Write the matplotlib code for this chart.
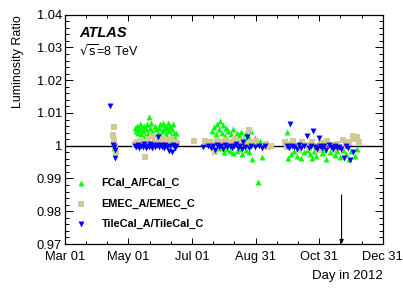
import matplotlib
matplotlib.use("Agg")
import matplotlib.pyplot as plt
from matplotlib.ticker import MultipleLocator, FixedLocator

plt.rcParams['font.family'] = ['Liberation Sans', 'DejaVu Sans']

# day of year (2012) and luminosity ratios
fcal_day = [107, 108,
            128, 129, 130, 131, 132, 133, 134, 135, 136, 137, 138, 139, 140, 141, 142, 143,
            144, 145, 146, 147, 148, 149, 150, 151, 152, 153, 154, 155, 156, 157, 158, 159,
            160, 161, 162, 163, 164, 165, 166, 167, 168,
            202, 204, 206, 207, 209, 210, 212, 213, 215, 216, 218, 220, 222, 224, 226, 228,
            230, 233, 235, 237, 240, 243, 248,
            205, 210, 214, 217, 219, 222, 226, 228, 231, 235, 238, 241, 246, 250,
            274, 275, 278, 281, 284, 286, 288, 290, 293, 296, 298, 300, 302, 305, 308, 310,
            312, 315, 318, 320, 322, 325, 328, 331, 334, 336, 339, 341]
fcal_val = [1.0027, 0.9993,
            1.0055, 1.0045, 1.0060, 1.0040, 1.0052, 1.0066, 1.0035, 1.0056, 1.0045, 1.0061,
            1.0030, 1.0050, 1.0065, 1.0040, 1.0088, 1.0055, 1.0070, 1.0045, 1.0035, 1.0060,
            1.0050, 1.0025, 1.0040, 1.0055, 1.0066, 1.0030, 1.0046, 1.0070, 1.0050, 1.0060,
            1.0035, 1.0055, 1.0070, 1.0045, 1.0060, 1.0030, 1.0050, 1.0065, 1.0040, 1.0025,
            1.0038,
            1.0045, 1.0058, 1.0035, 1.0066, 1.0050, 1.0074, 1.0040, 1.0062, 1.0030, 1.0055,
            1.0046, 1.0036, 1.0050, 1.0028, 1.0040, 1.0033, 1.0043, 1.0025, 1.0040, 1.0030,
            1.0044, 1.0024, 1.0015,
            0.9988, 0.9992, 0.9982, 0.9990, 0.9985, 0.9978, 0.9983, 0.9990, 0.9974, 0.9987,
            0.9980, 0.9958, 0.9890, 0.9967,
            1.0041, 0.9962, 0.9975, 0.9985, 0.9970, 0.9990, 0.9962, 0.9980, 0.9988, 0.9975,
            0.9962, 0.9985, 0.9970, 0.9992, 0.9978, 0.9987, 0.9960, 0.9980, 0.9990, 0.9972,
            0.9983, 0.9966, 0.9988, 0.9976, 0.9960, 0.9985, 0.9970, 0.9990]

emec_day = [107, 108, 108.5, 109, 110,
            128, 130, 132, 134, 136, 138, 139, 141, 143, 145, 147, 149, 151, 153, 155, 157,
            159, 161, 163, 165, 167, 169,
            185, 195,
            200, 203, 205, 207, 209, 212, 214, 216, 218, 220, 222, 224, 226, 228, 230, 232,
            234, 236, 238, 240, 242, 244, 252, 254, 256, 259,
            272, 274, 277, 280, 283, 286, 289, 292, 295, 298, 301, 304, 307, 310, 313, 316,
            319, 322, 325, 328, 331, 334, 337, 339, 341, 343]
emec_val = [1.0033, 1.0018, 1.0058, 1.0000, 0.9982,
            1.0005, 1.0010, 0.9998, 1.0015, 1.0008, 0.9966, 1.0012, 1.0020, 1.0006, 1.0030,
            1.0012, 1.0002, 1.0018, 1.0010, 1.0022, 1.0006, 1.0015, 1.0010, 1.0020, 1.0005,
            1.0012, 1.0008,
            1.0015, 1.0014,
            1.0010, 1.0006, 0.9980, 1.0015, 1.0004, 1.0012, 0.9996, 1.0018, 1.0008, 1.0000,
            1.0012, 1.0020, 1.0004, 1.0010, 0.9995, 1.0015, 1.0006, 1.0000, 1.0048, 1.0010,
            1.0002, 1.0015, 1.0000, 1.0004, 0.9996, 1.0000,
            1.0010, 0.9995, 1.0005, 1.0015, 1.0000, 0.9990, 1.0010, 1.0003, 0.9993, 1.0012,
            1.0000, 0.9988, 1.0008, 0.9996, 1.0015, 1.0002, 0.9990, 1.0006, 0.9994, 1.0018,
            1.0000, 1.0010, 1.0030, 1.0020, 1.0028, 1.0012]

tile_day = [104.5, 107, 108, 109, 109.5,
            128, 129.5, 131, 132.5, 134, 135.5, 137, 138.5, 140, 141.5, 143, 144.5, 146,
            147.5, 149, 150, 151.5, 153, 154.5, 156, 157.5, 159, 160.5, 162, 163.5, 165,
            166.5, 168,
            194, 198, 201, 203, 205, 207, 209, 211, 213, 215, 217, 219, 221, 223, 225, 227,
            229, 231, 232, 234, 236, 238, 240, 243, 247, 250, 253,
            277, 274, 276, 279, 281, 284, 286, 288, 290, 293, 295, 297, 299, 301, 303, 305,
            306, 308, 310, 312, 314, 316, 318, 320, 322, 324, 326, 329, 331, 333, 335, 337]
tile_val = [1.0121, 1.0003, 0.9997, 0.9988, 0.9963,
            1.0000, 0.9995, 1.0003, 0.9992, 1.0000, 0.9996, 1.0004, 0.9993, 1.0000, 0.9997,
            1.0004, 0.9994, 1.0001, 0.9996, 1.0002, 1.0027, 0.9995, 1.0003, 0.9997, 0.9992,
            1.0002, 0.9996, 0.9985, 0.9998, 0.9980, 1.0001, 0.9994, 1.0000,
            0.9997, 1.0000, 0.9993, 0.9998, 0.9988, 1.0002, 0.9995, 0.9999, 0.9990, 1.0003,
            0.9996, 1.0000, 0.9992, 0.9998, 1.0004, 0.9994, 1.0000, 0.9990, 1.0010, 0.9997,
            1.0028, 0.9994, 1.0000, 0.9996, 0.9998, 0.9993, 1.0000,
            1.0067, 0.9998, 0.9992, 1.0000, 0.9995, 0.9990, 1.0002, 0.9994, 0.9998, 1.0030,
            0.9993, 1.0000, 1.0046, 0.9996, 0.9990, 1.0024, 1.0000, 0.9994, 0.9998, 0.9988,
            1.0002, 0.9995, 0.9990, 1.0000, 0.9993, 0.9997, 0.9990, 0.9963, 0.9998, 0.9992,
            0.9955, 0.9980]

tick_days = [61, 122, 183, 244, 305, 366]
tick_labels = ['Mar 01', 'May 01', 'Jul 01', 'Aug 31', 'Oct 31', 'Dec 31']
ytick_vals = [0.97, 0.98, 0.99, 1.0, 1.01, 1.02, 1.03, 1.04]
ytick_labels = ['0.97', '0.98', '0.99', '1', '1.01', '1.02', '1.03', '1.04']

fig = plt.figure(figsize=(4.03, 2.91), dpi=100)
ax = fig.add_axes([0.161, 0.1615, 0.7887, 0.788])

ax.axhline(1.0, color='black', lw=1.0, zorder=1)
ax.scatter(fcal_day, fcal_val, marker='^', s=18, color='#00ff00', lw=0, zorder=2,
           label='FCal_A/FCal_C')
ax.scatter(emec_day, emec_val, marker='s', s=16, color='#d4c995', lw=0, zorder=3,
           label='EMEC_A/EMEC_C')
ax.scatter(tile_day, tile_val, marker='v', s=18, color='#0000ff', lw=0, zorder=4,
           label='TileCal_A/TileCal_C')

ax.set_xlim(61, 366)
ax.set_ylim(0.97, 1.04)
ax.xaxis.set_major_locator(FixedLocator(tick_days))
ax.set_xticklabels(tick_labels)
ax.xaxis.set_minor_locator(FixedLocator([61 + i * 61 / 3 for i in range(16)]))
ax.yaxis.set_major_locator(FixedLocator(ytick_vals))
ax.set_yticklabels(ytick_labels)
ax.yaxis.set_minor_locator(MultipleLocator(0.002))

ax.tick_params(axis='both', which='both', direction='in', top=True, right=True,
               labelsize=9.3, width=0.7)
ax.tick_params(axis='y', which='major', length=6, pad=2)
ax.tick_params(axis='y', which='minor', length=3)
ax.tick_params(axis='x', which='major', length=4, pad=5)
ax.tick_params(axis='x', which='minor', length=2)
for sp in ax.spines.values():
    sp.set_linewidth(0.9)

# arrow marking the day
ax.annotate('', xy=(326.5, 0.9700), xytext=(326.5, 0.9850),
            arrowprops=dict(arrowstyle='-|>', color='black', lw=0.8,
                            mutation_scale=6, shrinkA=0, shrinkB=0))

ax.text(0.045, 0.922, 'ATLAS', transform=ax.transAxes, fontsize=10.5,
        fontweight='bold', fontstyle='italic', ha='left', va='center')
ax.text(0.045, 0.842, r'$\sqrt{\rm s}$=8 TeV', transform=ax.transAxes, fontsize=9,
        ha='left', va='center')

leg = ax.legend(loc='upper left', bbox_to_anchor=(0.0, 0.31), frameon=False,
                prop={'weight': 'bold', 'size': 7.8}, handletextpad=0.9,
                labelspacing=0.95, borderpad=0, scatterpoints=1)

ax.text(1.0, -0.14, 'Day in 2012', transform=ax.transAxes, fontsize=9.5,
        ha='right', va='center')
fig.text(18 / 403, 1 - 15 / 291, 'Luminosity Ratio', rotation=90, fontsize=9,
         ha='center', va='top')

fig.savefig('out.png', dpi=100)
